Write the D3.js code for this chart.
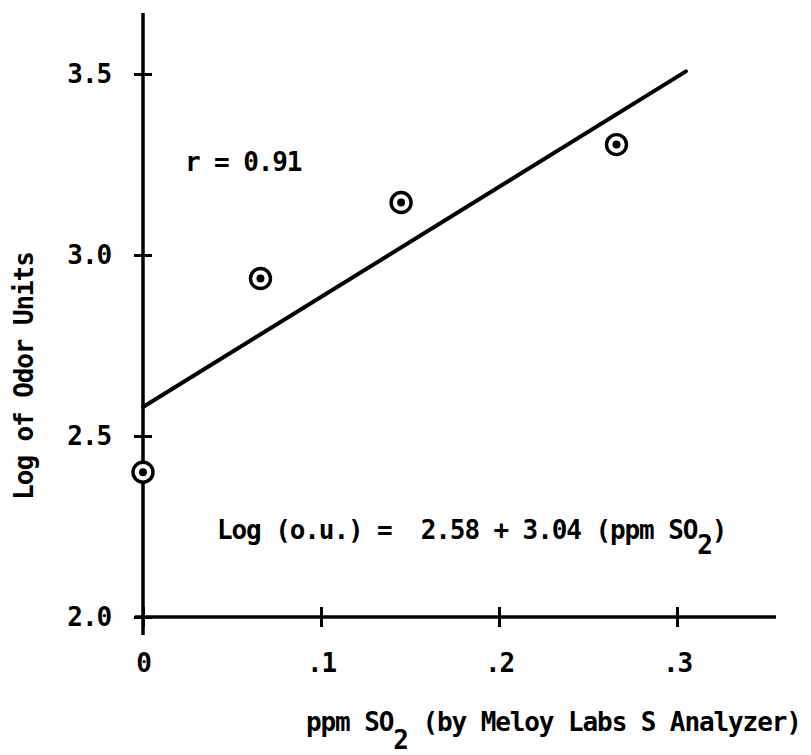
<!DOCTYPE html>
<html lang="en">
<head>
    <meta charset="UTF-8">
    <title>Log of Odor Units vs ppm SO2</title>
    <script src="https://cdn.jsdelivr.net/npm/d3@7"></script>
    <style>
        body { margin: 0; background: #fff; }
        text { font-family: "DejaVu Sans Mono", monospace; font-weight: bold; fill: #000; font-size: 26px; letter-spacing: -1.1px; }
    </style>
</head>
<body>
    <div id="chart"></div>
    <script>
        // data
        const ppmSO2 = [0, 0.066, 0.145, 0.266];
        const logOdor = [2.40, 2.935, 3.145, 3.305];

        // regression: log(o.u.) = 2.58 + 3.04 * ppm
        const intercept = 2.58;
        const slope = 3.04;
        const fitRange = [0, 0.305];

        const xTicks = [0, 0.1, 0.2, 0.3];
        const xTickLabels = ["0", ".1", ".2", ".3"];
        const yTicks = [2.0, 2.5, 3.0, 3.5];
        const yTickLabels = ["2.0", "2.5", "3.0", "3.5"];

        const width = 811, height = 755;

        const svg = d3.select("#chart")
            .append("svg")
            .attr("width", width)
            .attr("height", height);

        const x = d3.scaleLinear().domain([0, 0.3]).range([143, 677]);
        const y = d3.scaleLinear().domain([2.0, 3.5]).range([617, 74]);

        // axis lines
        svg.append("line")
            .attr("x1", x(0)).attr("x2", x(0))
            .attr("y1", 13).attr("y2", 635)
            .attr("stroke", "#000").attr("stroke-width", 3.5);
        svg.append("line")
            .attr("x1", 135).attr("x2", 776)
            .attr("y1", y(2.0)).attr("y2", y(2.0))
            .attr("stroke", "#000").attr("stroke-width", 3.5);

        // y axis ticks
        const yAxis = svg.append("g")
            .attr("transform", `translate(${x(0)},0)`)
            .call(d3.axisLeft(y)
                .tickValues(yTicks)
                .tickFormat((d, i) => yTickLabels[i])
                .tickSize(9)
                .tickPadding(23));
        yAxis.select(".domain").remove();
        yAxis.selectAll("line").attr("x2", -9).attr("x1", 9)
            .attr("stroke", "#000").attr("stroke-width", 3);
        yAxis.selectAll("text").attr("font-size", null).attr("font-family", null);

        // x axis ticks
        const xAxis = svg.append("g")
            .attr("transform", `translate(0,${y(2.0)})`)
            .call(d3.axisBottom(x)
                .tickValues(xTicks)
                .tickFormat((d, i) => xTickLabels[i])
                .tickSize(10)
                .tickPadding(27));
        xAxis.select(".domain").remove();
        xAxis.selectAll("line").attr("y1", -10).attr("y2", 10)
            .attr("stroke", "#000").attr("stroke-width", 3);
        xAxis.selectAll("text").attr("font-size", null).attr("font-family", null);

        // regression line
        svg.append("line")
            .attr("x1", x(fitRange[0]))
            .attr("y1", y(intercept + slope * fitRange[0]))
            .attr("x2", x(fitRange[1]))
            .attr("y2", y(intercept + slope * fitRange[1]))
            .attr("stroke", "#000")
            .attr("stroke-width", 4)
            .attr("stroke-linecap", "round");

        // points: ring with dot
        const pts = ppmSO2.map((v, i) => [v, logOdor[i]]);
        svg.selectAll(".ring")
            .data(pts)
            .enter().append("circle")
            .attr("class", "ring")
            .attr("cx", d => x(d[0]))
            .attr("cy", d => y(d[1]))
            .attr("r", 10)
            .attr("fill", "#fff")
            .attr("stroke", "#000")
            .attr("stroke-width", 3.4);
        svg.selectAll(".dot")
            .data(pts)
            .enter().append("circle")
            .attr("class", "dot")
            .attr("cx", d => x(d[0]))
            .attr("cy", d => y(d[1]))
            .attr("r", 4)
            .attr("fill", "#000");

        // annotations
        svg.append("text")
            .attr("x", 185)
            .attr("y", 171)
            .text("r = 0.91");

        const eq = svg.append("text")
            .attr("x", 217)
            .attr("y", 539)
            .style("white-space", "pre");
        eq.append("tspan").text("Log (o.u.) =  2.58 + 3.04 (ppm SO");
        eq.append("tspan").attr("dy", 15).text("2");
        eq.append("tspan").attr("dy", -15).text(")");

        // axis titles
        const xt = svg.append("text")
            .attr("x", 306)
            .attr("y", 731)
            .style("white-space", "pre");
        xt.append("tspan").text("ppm SO");
        xt.append("tspan").attr("dy", 18).text("2");
        xt.append("tspan").attr("dy", -18).text(" (by Meloy Labs S Analyzer)");

        svg.append("text")
            .attr("transform", "translate(33,376) rotate(-90)")
            .style("text-anchor", "middle")
            .text("Log of Odor Units");
    </script>
</body>
</html>
